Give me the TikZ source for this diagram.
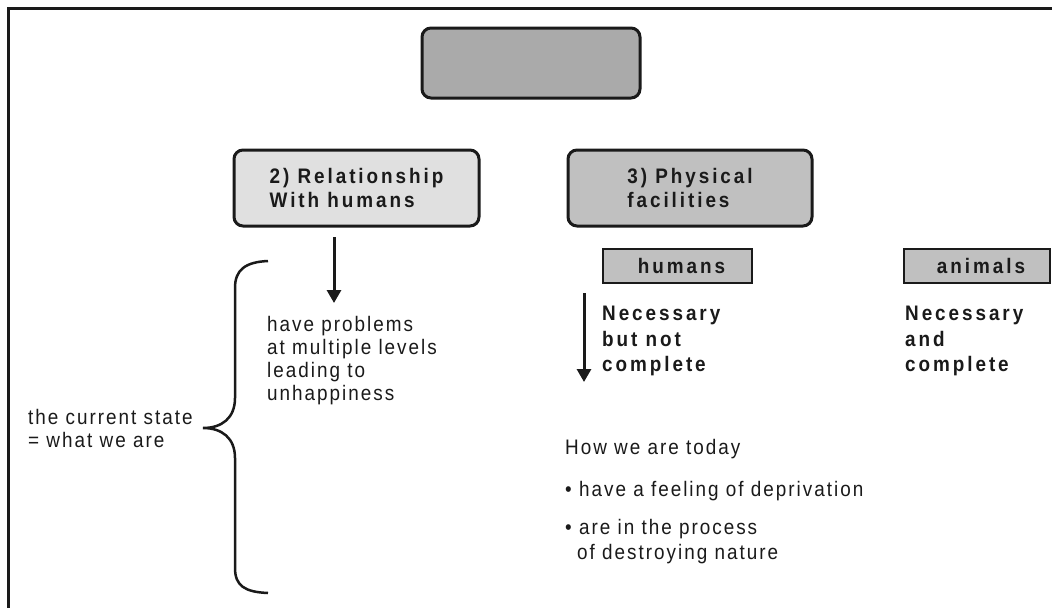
\documentclass[tikz,border=0pt]{standalone}
\usepackage{fontspec}
\setmainfont{Liberation Sans}[FakeStretch=0.9, LetterSpace=9.5, BoldFeatures={LetterSpace=14}]
\usetikzlibrary{arrows.meta}
\definecolor{ink}{HTML}{1A1A1A}
\definecolor{topgray}{HTML}{AAAAAA}
\definecolor{lightgray}{HTML}{E0E0E0}
\definecolor{midgray}{HTML}{C0C0C0}
\begin{document}
\begin{tikzpicture}[x=1pt,y=-1pt,
  frame/.style={line width=3pt, draw=ink},
  rbox/.style={draw=ink, line width=3pt, rounded corners=9pt, inner sep=0pt},
  sbox/.style={draw=ink, line width=2.5pt, inner sep=0pt, fill=midgray, minimum height=34pt,
     text=ink, font=\fontsize{21}{24}\selectfont\bfseries},
  arr/.style={line width=3pt, draw=ink, -{Triangle[width=14pt,length=13pt]}},
  body/.style={font=\fontsize{21}{23}\selectfont, text=ink, inner sep=0pt, align=left, anchor=north west},
  boldbody/.style={font=\fontsize{21}{25.5}\selectfont\bfseries, text=ink, inner sep=0pt, align=left, anchor=north west},
  boxtext/.style={font=\fontsize{21}{24}\selectfont\bfseries, text=ink, align=left}
]
\useasboundingbox (0,0) rectangle (1052,608);
\fill[white] (0,0) rectangle (1052,608);
% frame
\coordinate (tl) at (8,8);
\coordinate (tr) at (1052,8);
\coordinate (bl) at (8,608);
\draw[frame] (tr) -- (tl) -- (bl);
% boxes
\node[rbox, fill=topgray, minimum width=218pt, minimum height=70pt] (top) at (531,63) {};
\node[rbox, fill=lightgray, minimum width=245pt, minimum height=76pt, boxtext] (rel) at (356.5,188)
  {2) Relationship\\With humans};
\node[rbox, fill=midgray, minimum width=244pt, minimum height=76pt, boxtext] (phys) at (690,188)
  {3) Physical\\facilities};
\node[sbox, minimum width=149pt] (hum) at (677.5,266) {\hspace*{8pt}humans};
\node[sbox, minimum width=146pt] (ani) at (977,266) {\hspace*{8pt}animals};
% texts
\node[body] (prob) at (267,316) {have problems\\at multiple levels\\leading to\\unhappiness};
\node[boldbody] (nec1) at (602,306) {Necessary\\but not\\complete};
\node[boldbody] (nec2) at (905,306) {Necessary\\and\\complete};
\node[body] (cur) at (28,409) {the current state\\= what we are};
\node[body, font=\fontsize{21}{25}\selectfont] (today) at (565,439)
  {How we are today\\[17pt]• have a feeling of deprivation\\[13pt]• are in the process\\\hspace*{12pt}of destroying nature};
% arrows
\coordinate (a2s) at (334,237);
\coordinate (a2e) at (334,303);
\draw[arr] (a2s) -- (a2e);
\coordinate (a3s) at (584,293);
\coordinate (a3e) at (584,382);
\draw[arr] (a3s) -- (a3e);
% brace
\draw[line width=2.5pt, draw=ink]
  (268,261) .. controls (245,262) and (235,270) .. (235,288) -- (235,398)
  .. controls (235,418) and (222,428) .. (203,428)
  .. controls (222,428) and (235,438) .. (235,458) -- (235,568)
  .. controls (235,586) and (245,592) .. (268,593);
\end{tikzpicture}
\end{document}
